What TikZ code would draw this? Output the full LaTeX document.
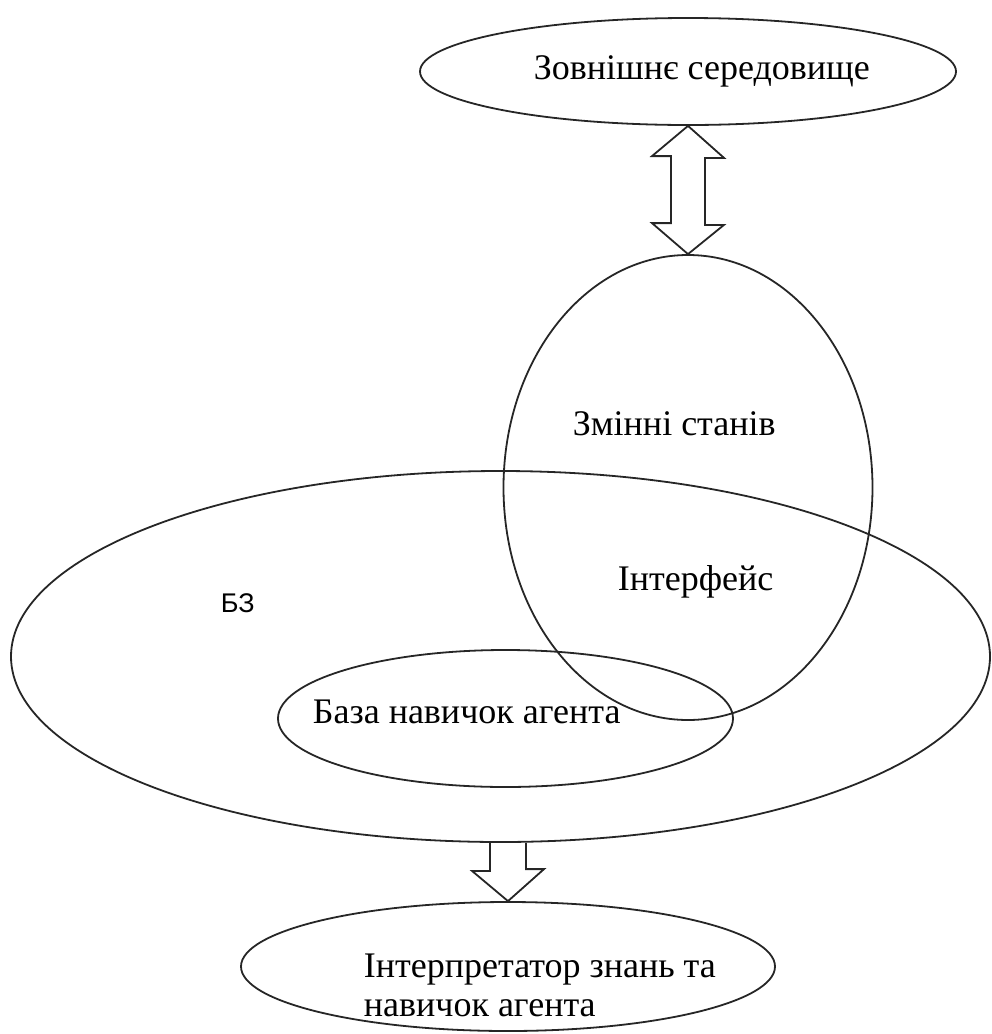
\documentclass[tikz,border=0pt]{standalone}
\usepackage{fontspec}
\setmainfont{Liberation Serif}
\newfontfamily\bzfont{Liberation Sans}
\usetikzlibrary{shapes.geometric,calc}

\begin{document}
\begin{tikzpicture}[x=1pt,y=-1pt,line width=1.8pt,
  oval/.style={draw=black!85, ellipse, inner sep=0pt},
  lbl/.style={anchor=base west, inner sep=0pt, font=\fontsize{36}{39}\selectfont},
  hollow/.style={draw=black!85, line join=miter}]
\useasboundingbox (0,0) rectangle (992,1034);

% ellipses
\node[oval, minimum width=536pt, minimum height=107pt] (env) at (688,71.5) {};
\node[oval, minimum width=369pt, minimum height=465pt] (st) at (688,487.5) {};
\node[oval, minimum width=979pt, minimum height=371pt] (kb) at (500.5,656.5) {};
\node[oval, minimum width=455pt, minimum height=137pt] (skills) at (505.5,718.5) {};
\node[oval, minimum width=534pt, minimum height=129pt] (interp) at (508,966.5) {};

% labels
\node[lbl] (tenv) at (533,79) {Зовнішнє середовище};
\node[lbl] (tst) at (572,435) {Змінні станів};
\node[lbl] (tif) at (617,590) {Інтерфейс};
\node[anchor=base west, inner sep=0pt, font=\bzfont\fontsize{27}{30}\selectfont] (tkb) at (220,612) {БЗ};
\node[lbl] (tsk) at (312,723) {База навичок агента};
% the base anchor of a two-line node sits on its last line
\node[lbl, align=left] (tin) at (363,1016) {Інтерпретатор знань та\\навичок агента};

% two-way arrow between the environment and the state variables
\draw[hollow] (env.south) -- ++(36,32) -- ++(-19,0) -- ++(0,67) -- ++(19,0)
  -- (st.north) -- ++(-36,-31) -- ++(19,0) -- ++(0,-67) -- ++(-19,0) -- cycle;

% arrow from the knowledge base to the interpreter
\coordinate (dl) at ($(interp.north)+(-18,0)$);
\coordinate (dr) at ($(interp.north)+(18,0)$);
\draw[hollow] (dl |- kb.south) -- ++(0,28) -- ++(-18,0) -- (interp.north)
  -- ++(36,-32) -- ++(-18,0) -- (dr |- kb.south);
\end{tikzpicture}
\end{document}
